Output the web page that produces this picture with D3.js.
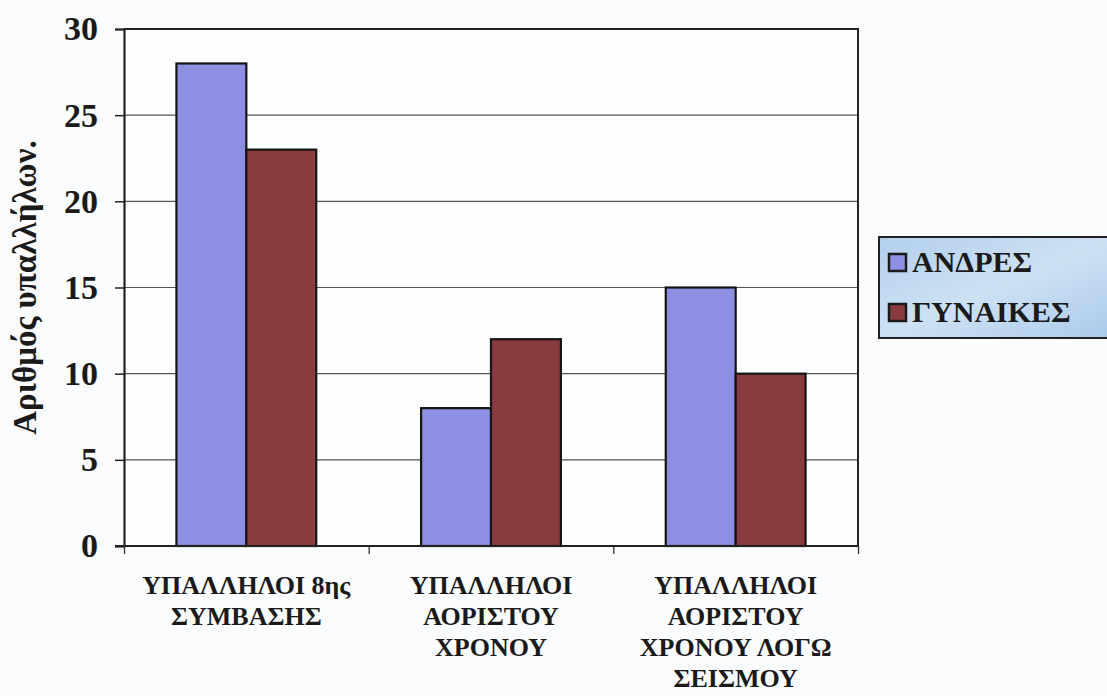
<!DOCTYPE html>
<html>
<head>
<meta charset="utf-8">
<script src="https://cdn.jsdelivr.net/npm/d3@7"></script>
<style>
  html, body { margin: 0; padding: 0; background: #fbfcfe; }
  svg { display: block; }
</style>
</head>
<body>
<svg id="chart" width="1107" height="696"></svg>
<script>
// Employees by contract type and gender
const categories = [
  ["ΥΠΑΛΛΗΛΟΙ 8ης", "ΣΥΜΒΑΣΗΣ"],
  ["ΥΠΑΛΛΗΛΟΙ", "ΑΟΡΙΣΤΟΥ", "ΧΡΟΝΟΥ"],
  ["ΥΠΑΛΛΗΛΟΙ", "ΑΟΡΙΣΤΟΥ", "ΧΡΟΝΟΥ ΛΟΓΩ", "ΣΕΙΣΜΟΥ"]
];
const seriesNames = ["ΑΝΔΡΕΣ", "ΓΥΝΑΙΚΕΣ"];
const men = [28, 8, 15];
const women = [23, 12, 10];
const yTicks = [0, 5, 10, 15, 20, 25, 30];
const yTitle = "Αριθμός υπαλλήλων.";

const colors = ["#8d90e2", "#8a3b3f"];
const FONT = "'Liberation Serif', 'Times New Roman', serif";
const INK = "#1a1a1a";
const svg = d3.select("#chart");

const plot = { left: 124, top: 29, right: 858, bottom: 546 };

const x0 = d3.scaleBand()
  .domain(d3.range(categories.length))
  .range([plot.left, plot.right])
  .paddingInner(0)
  .paddingOuter(0);

const x1 = d3.scaleBand()
  .domain(d3.range(seriesNames.length))
  .range([0, x0.bandwidth()])
  .paddingInner(0)
  .paddingOuter(0.75);

const y = d3.scaleLinear().domain([0, 30]).range([plot.bottom, plot.top]);

// plot area background
svg.append("rect")
  .attr("x", plot.left).attr("y", plot.top)
  .attr("width", plot.right - plot.left).attr("height", plot.bottom - plot.top)
  .attr("fill", "#fdfeff");

// horizontal gridlines
svg.append("g")
  .selectAll("line")
  .data(yTicks.filter(d => d > 0 && d < 30))
  .join("line")
  .attr("x1", plot.left).attr("x2", plot.right)
  .attr("y1", d => y(d)).attr("y2", d => y(d))
  .attr("stroke", "#555").attr("stroke-width", 1.2);

// bars
const values = [men, women];
const groups = svg.append("g")
  .selectAll("g")
  .data(categories.map((c, i) => i))
  .join("g")
  .attr("transform", i => `translate(${x0(i)},0)`);

groups.selectAll("rect")
  .data(i => values.map((s, k) => ({ k, v: s[i] })))
  .join("rect")
  .attr("x", d => x1(d.k))
  .attr("width", x1.bandwidth())
  .attr("y", d => y(d.v))
  .attr("height", d => y(0) - y(d.v))
  .attr("fill", d => colors[d.k])
  .attr("stroke", "#151515")
  .attr("stroke-width", 2.2);

// plot frame (top and right)
svg.append("path")
  .attr("d", `M${plot.left},${plot.top}H${plot.right}V${plot.bottom}`)
  .attr("fill", "none").attr("stroke", "#222").attr("stroke-width", 2);

// y axis
const yAxis = svg.append("g")
  .attr("transform", `translate(${plot.left},0)`)
  .call(d3.axisLeft(y).tickValues(yTicks).tickSize(9).tickPadding(17));
yAxis.select(".domain").attr("stroke", "#222").attr("stroke-width", 2.2);
yAxis.selectAll(".tick line").attr("stroke", "#222").attr("stroke-width", 1.5);
yAxis.selectAll(".tick text")
  .style("font-family", FONT)
  .style("font-weight", "bold")
  .style("font-size", "34px")
  .attr("fill", INK);

// x axis
const xAxis = svg.append("g")
  .attr("transform", `translate(0,${plot.bottom})`)
  .call(d3.axisBottom(d3.scaleLinear().domain([0, 3]).range([plot.left, plot.right]))
    .tickValues([0, 1, 2, 3]).tickSize(8).tickFormat(""));
xAxis.select(".domain").remove();
xAxis.append("line")
  .attr("x1", plot.left - 9).attr("x2", plot.right)
  .attr("stroke", "#222").attr("stroke-width", 2.2);
xAxis.selectAll(".tick line").attr("stroke", "#333").attr("stroke-width", 1.3);

// category labels
svg.append("g")
  .selectAll("text")
  .data(categories.map((c, i) => i))
  .join("text")
  .attr("text-anchor", "middle")
  .style("font-family", FONT)
  .style("font-weight", "bold")
  .style("font-size", "26px")
  .attr("fill", INK)
  .attr("x", i => x0(i) + x0.bandwidth() / 2)
  .attr("y", 594)
  .each(function (i) {
    d3.select(this).selectAll("tspan")
      .data(categories[i])
      .join("tspan")
      .attr("x", x0(i) + x0.bandwidth() / 2)
      .attr("dy", (d, j) => j === 0 ? 0 : 31)
      .text(d => d);
  });

// y axis title
svg.append("text")
  .attr("transform", `translate(36,${(plot.top + plot.bottom) / 2}) rotate(-90)`)
  .attr("text-anchor", "middle")
  .style("font-family", FONT)
  .style("font-weight", "bold")
  .style("font-size", "33px")
  .attr("fill", INK)
  .text(yTitle);

// legend
const defs = svg.append("defs");
const grad = defs.append("linearGradient").attr("id", "legendBg")
  .attr("x1", 0).attr("y1", 0).attr("x2", 1).attr("y2", 1);
grad.append("stop").attr("offset", "0%").attr("stop-color", "#b2cfec");
grad.append("stop").attr("offset", "50%").attr("stop-color", "#cde1f4");
grad.append("stop").attr("offset", "100%").attr("stop-color", "#a9c9ea");

const legend = svg.append("g").attr("transform", "translate(879,237)");
legend.append("rect")
  .attr("width", 240).attr("height", 101)
  .attr("fill", "url(#legendBg)")
  .attr("stroke", "#222").attr("stroke-width", 2);

const items = legend.selectAll("g.item")
  .data(seriesNames)
  .join("g")
  .attr("class", "item")
  .attr("transform", (d, i) => `translate(10,${25 + i * 50})`);
items.append("rect")
  .attr("x", 0).attr("y", -8)
  .attr("width", 17).attr("height", 17)
  .attr("fill", (d, i) => colors[i])
  .attr("stroke", "#1a1a1a").attr("stroke-width", 2.5);
items.append("text")
  .attr("x", 23).attr("y", 10)
  .style("font-family", FONT)
  .style("font-weight", "bold")
  .style("font-size", "30px")
  .attr("fill", INK)
  .text(d => d);
</script>
</body>
</html>
